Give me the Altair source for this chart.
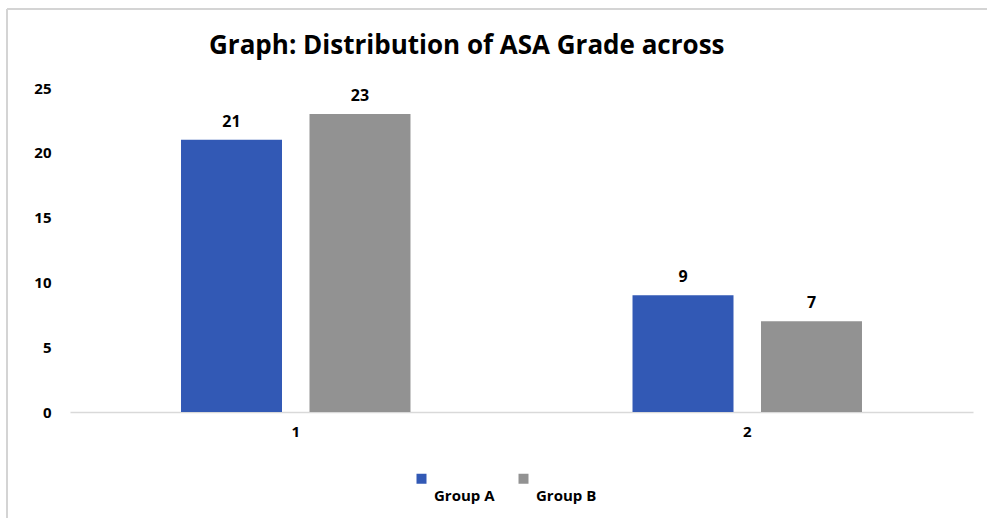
import altair as alt
import pandas as pd

# ASA grade counts per study group
grades = ["1", "1", "2", "2"]
groups = ["Group A", "Group B", "Group A", "Group B"]
counts = [21, 23, 9, 7]

group_order = ["Group A", "Group B"]
group_colors = ["#3259B5", "#929292"]

FONT = "Open Sans"

df = pd.DataFrame({"grade": grades, "group": groups, "count": counts})

base = alt.Chart(df).encode(
    x=alt.X(
        "grade:N",
        title=None,
        scale=alt.Scale(paddingInner=0, paddingOuter=0),
        axis=alt.Axis(
            labelAngle=0,
            labelFont=FONT,
            labelFontSize=15,
            labelFontWeight="bold",
            labelColor="#000000",
            labelPadding=12,
            ticks=False,
            domainColor="#d9d9d9",
            domainWidth=1.5,
            grid=False,
        ),
    ),
    xOffset=alt.XOffset(
        "group:N",
        sort=group_order,
        scale=alt.Scale(paddingInner=0.214, paddingOuter=0.864),
    ),
    y=alt.Y(
        "count:Q",
        title=None,
        scale=alt.Scale(domain=[0, 25], nice=False),
        axis=alt.Axis(
            values=[0, 5, 10, 15, 20, 25],
            labelFont=FONT,
            labelFontSize=15,
            labelFontWeight="bold",
            labelColor="#000000",
            labelPadding=19,
            ticks=False,
            domain=False,
            grid=False,
        ),
    ),
)

bars = base.mark_bar().encode(
    color=alt.Color(
        "group:N",
        sort=group_order,
        scale=alt.Scale(domain=group_order, range=group_colors),
        legend=alt.Legend(
            title=None,
            orient="none",
            legendX=344,
            legendY=383,
            direction="horizontal",
            symbolType="square",
            symbolSize=100,
            symbolStrokeWidth=0,
            labelFont=FONT,
            labelFontSize=15,
            labelFontWeight="bold",
            labelColor="#000000",
            labelOffset=5,
            labelBaseline="middle",
            # push each label onto a line below its swatch
            labelExpr="['', '', datum.label]",
            columnPadding=21,
        ),
    )
)

labels = base.mark_text(
    baseline="bottom", dy=-10, font=FONT, fontSize=16, fontWeight="bold", color="#000000"
).encode(text="count:Q")

# thin frame around the chart area
frame_top = alt.Chart(df).mark_rule(color="#d4d4d4", strokeWidth=2).encode(
    x=alt.value(-63), x2=alt.value(930), y=alt.value(-79)
)
frame_left = alt.Chart(df).mark_rule(color="#d4d4d4", strokeWidth=2).encode(
    x=alt.value(-63), y=alt.value(-79), y2=alt.value(440)
)

chart = (
    alt.layer(frame_top, frame_left, bars, labels)
    .properties(
        width=903,
        height=324,
        title=alt.TitleParams(
            "Graph: Distribution of ASA Grade across",
            anchor="start",
            dx=203,
            dy=72,
            offset=0,
            baseline="alphabetic",
            font=FONT,
            fontSize=26,
            fontWeight="bold",
            color="#000000",
        ),
        autosize=alt.AutoSizeParams(type="none"),
        padding={"left": 70, "top": 88, "right": 14, "bottom": 106},
        background="#ffffff",
    )
    .configure_view(stroke=None)
)

chart.save("out.html", embed_options={"renderer": "svg", "actions": False})
